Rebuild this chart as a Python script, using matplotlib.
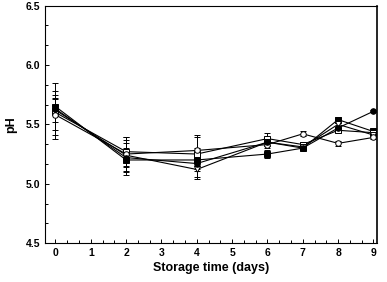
import matplotlib
matplotlib.use("Agg")
import matplotlib.pyplot as plt
from matplotlib.ticker import MultipleLocator

days = [0, 2, 4, 6, 7, 8, 9]
s_fcirc = [5.63, 5.22, 5.17, 5.35, 5.30, 5.47, 5.61]
s_ocirc = [5.58, 5.25, 5.28, 5.33, 5.42, 5.34, 5.39]
s_fsq = [5.65, 5.20, 5.20, 5.25, 5.30, 5.54, 5.44]
s_osq = [5.60, 5.27, 5.25, 5.38, 5.33, 5.45, 5.43]
s_otri = [5.62, 5.24, 5.12, 5.35, 5.31, 5.50, 5.41]
err_fcirc = [0.22, 0.15, 0.13, 0.03, 0.02, 0.02, 0.01]
err_ocirc = [0.20, 0.14, 0.13, 0.03, 0.02, 0.02, 0.01]
err_fsq = [0.06, 0.10, 0.08, 0.03, 0.02, 0.02, 0.02]
err_osq = [0.15, 0.12, 0.14, 0.05, 0.02, 0.02, 0.02]
err_otri = [0.10, 0.10, 0.06, 0.03, 0.02, 0.02, 0.02]

plt.rcParams['font.family'] = ['Liberation Sans', 'DejaVu Sans']
fig = plt.figure(figsize=(3.87, 2.82), dpi=100)
ax = fig.add_axes([0.116, 0.138, 0.858, 0.842])

series = [
    (s_fsq, err_fsq, 's', 'black'),
    (s_osq, err_osq, 's', 'white'),
    (s_otri, err_otri, 'v', 'white'),
    (s_ocirc, err_ocirc, 'o', 'white'),
    (s_fcirc, err_fcirc, 'o', 'black'),
]
for vals, errs, mk, fc in series:
    ax.errorbar(days, vals, yerr=errs, color='black', lw=0.8, marker=mk,
                markersize=4, markerfacecolor=fc, markeredgecolor='black',
                markeredgewidth=0.7, capsize=2, elinewidth=0.7, capthick=0.7)

ax.set_xlim(-0.3, 9.1)
ax.set_ylim(4.5, 6.5)
ax.xaxis.set_major_locator(MultipleLocator(1))
ax.xaxis.set_minor_locator(MultipleLocator(1/3))
ax.yaxis.set_major_locator(MultipleLocator(0.5))
ax.yaxis.set_minor_locator(MultipleLocator(0.5/3))
ax.tick_params(which='both', direction='in', width=0.7)
ax.tick_params(which='major', length=3, labelsize=7.5)
ax.tick_params(which='minor', length=2)
for lab in ax.get_xticklabels() + ax.get_yticklabels():
    lab.set_fontweight('bold')
ax.yaxis.set_major_formatter(matplotlib.ticker.FormatStrFormatter('%.1f'))
for sp in ax.spines.values():
    sp.set_linewidth(0.8)
ax.spines['right'].set_linewidth(1.2)
ax.set_xlabel('Storage time (days)', fontsize=9, fontweight='bold', labelpad=3)
ax.set_ylabel('pH', fontsize=9, fontweight='bold', labelpad=6)

fig.savefig('out.png', dpi=100)
